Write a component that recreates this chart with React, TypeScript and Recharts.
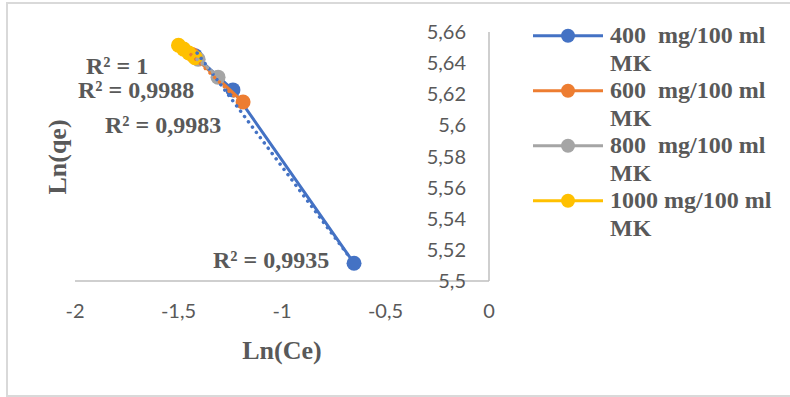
import { ScatterChart, Scatter, XAxis, YAxis } from 'recharts';

const xTicks = [-2, -1.5, -1, -0.5, 0];
const yTicks = [5.5, 5.52, 5.54, 5.56, 5.58, 5.6, 5.62, 5.64, 5.66];

const s400 = [
  { x: -1.42, y: 5.6448 },
  { x: -1.237, y: 5.6228 },
  { x: -0.652, y: 5.5114 },
];
const s600 = [
  { x: -1.435, y: 5.6455 },
  { x: -1.188, y: 5.615 },
];
const s800 = [
  { x: -1.405, y: 5.6425 },
  { x: -1.309, y: 5.631 },
];
const s1000 = [
  { x: -1.5, y: 5.6515 },
  { x: -1.475, y: 5.649 },
  { x: -1.45, y: 5.6465 },
  { x: -1.42, y: 5.6435 },
];

// linear trendline ends
const t400 = [
  { x: -1.41, y: 5.6465 },
  { x: -0.672, y: 5.515 },
];
const t600 = [
  { x: -1.44, y: 5.6455 },
  { x: -1.19, y: 5.6135 },
];
const t800 = [
  { x: -1.41, y: 5.6425 },
  { x: -1.3, y: 5.6305 },
];
const t1000 = [
  { x: -1.505, y: 5.652 },
  { x: -1.415, y: 5.643 },
];

const seriesNames = ['400  mg/100 ml', '600  mg/100 ml', '800  mg/100 ml', '1000 mg/100 ml'];
const seriesUnit = 'MK';
const r2Labels = ['R² = 1', 'R² = 0,9988', 'R² = 0,9983', 'R² = 0,9935'];

const COLORS = ['#4472C4', '#ED7D31', '#A5A5A5', '#FFC000'];
const TEXT = '#595959';
const AXIS = '#BFBFBF';
const SERIF = '"Liberation Serif", "Times New Roman", serif';

const comma = (v: number) => String(v).replace('.', ',');

const dot = (color: string) => (p: any) => (
  <circle cx={p.cx} cy={p.cy} r={7.5} fill={color} />
);
const none = () => <g />;

const r2Pos = [
  { left: 86, top: 74 },
  { left: 78, top: 98 },
  { left: 105, top: 133 },
  { left: 213, top: 268 },
];

export default function App() {
  const series = [s400, s600, s800, s1000];
  const trends = [t400, t600, t800, t1000];
  return (
    <div
      style={{
        position: 'fixed',
        left: 0,
        top: 0,
        width: 790,
        height: 397,
        overflow: 'hidden',
        background: '#fff',
      }}
    >
      <div
        style={{
          position: 'absolute',
          left: 6,
          top: 2,
          width: 820,
          height: 395,
          boxSizing: 'border-box',
          border: '2px solid #D9D9D9',
        }}
      />
      <div style={{ position: 'absolute', left: 0, top: 0 }}>
        <ScatterChart
          width={790}
          height={397}
          margin={{ top: 32, right: 301, left: 75, bottom: 86 }}
        >
          <XAxis
            type="number"
            dataKey="x"
            domain={[-2, 0]}
            ticks={xTicks}
            allowDataOverflow
            axisLine={{ stroke: AXIS, strokeWidth: 1.5 }}
            tickLine={false}
            tickMargin={17}
            tickFormatter={comma}
            tick={{ fill: TEXT, fontSize: 20, fontFamily: 'Lato' }}
          />
          <YAxis
            type="number"
            dataKey="y"
            orientation="right"
            mirror
            domain={[5.5, 5.66]}
            ticks={yTicks}
            allowDataOverflow
            axisLine={{ stroke: AXIS, strokeWidth: 1.5 }}
            tickLine={false}
            tickMargin={17}
            tickFormatter={comma}
            tick={{ fill: TEXT, fontSize: 20, fontFamily: 'Lato' }}
          />
          {series.map((d, i) => (
            <Scatter
              key={'s' + i}
              data={d}
              fill={COLORS[i]}
              line={{ stroke: COLORS[i], strokeWidth: 3 }}
              shape={dot(COLORS[i])}
              isAnimationActive={false}
            />
          ))}
          {trends.map((d, i) => (
            <Scatter
              key={'t' + i}
              data={d}
              fill={COLORS[i]}
              line={{
                stroke: COLORS[i],
                strokeWidth: 3.5,
                strokeDasharray: '0.1 6.5',
                strokeLinecap: 'round',
              }}
              shape={none}
              isAnimationActive={false}
            />
          ))}
        </ScatterChart>
      </div>
      <svg
        width={790}
        height={397}
        style={{ position: 'absolute', left: 0, top: 0, pointerEvents: 'none' }}
      >
        {r2Labels.map((t, i) => (
          <text
            key={t}
            x={r2Pos[i].left}
            y={r2Pos[i].top}
            fontFamily={SERIF}
            fontWeight="bold"
            fontSize={24}
            fill={TEXT}
          >
            {t}
          </text>
        ))}
        <text
          x={282}
          y={359}
          textAnchor="middle"
          fontFamily={SERIF}
          fontWeight="bold"
          fontSize={26}
          fill={TEXT}
        >
          Ln(Ce)
        </text>
        <text
          x={66}
          y={157}
          textAnchor="middle"
          transform="rotate(-90 66 157)"
          fontFamily={SERIF}
          fontWeight="bold"
          fontSize={26}
          fill={TEXT}
        >
          Ln(qe)
        </text>
      </svg>
      <div style={{ position: 'absolute', left: 533, top: 22 }}>
        {seriesNames.map((n, i) => (
          <div
            key={n}
            style={{
              display: 'flex',
              fontFamily: SERIF,
              fontWeight: 'bold',
              fontSize: 24,
              lineHeight: '27.5px',
              color: TEXT,
            }}
          >
            <svg width={77} height={27.5} style={{ flex: 'none' }}>
              <line x1={0} y1={13.75} x2={70} y2={13.75} stroke={COLORS[i]} strokeWidth={3} />
              <circle cx={35} cy={13.75} r={7} fill={COLORS[i]} />
            </svg>
            <div style={{ whiteSpace: 'pre' }}>
              {n}
              {'\n'}
              {seriesUnit}
            </div>
          </div>
        ))}
      </div>
    </div>
  );
}
